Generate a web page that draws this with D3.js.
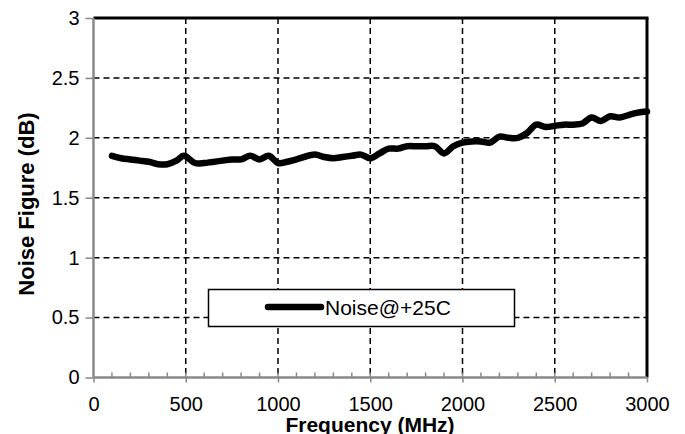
<!DOCTYPE html>
<html>
<head>
<meta charset="utf-8">
<script src="https://cdn.jsdelivr.net/npm/d3@7"></script>
<style>
  body{margin:0;background:#fff;}
  text{font-family:"Liberation Sans",Arial,sans-serif;}
</style>
</head>
<body>
<div id="chart"></div>
<script>
// frequency (MHz) and noise figure (dB)
var freq = [100,150,200,250,300,350,400,450,490,550,600,700,750,800,850,900,950,1000,1050,1100,1200,1250,1300,1350,1400,1450,1500,1550,1600,1650,1700,1750,1800,1850,1900,1950,2000,2050,2100,2150,2200,2250,2300,2350,2400,2450,2500,2550,2600,2650,2700,2750,2800,2850,2900,2950,3000];
var nf   = [1.85,1.83,1.82,1.81,1.80,1.78,1.78,1.81,1.85,1.79,1.79,1.81,1.82,1.82,1.85,1.82,1.85,1.79,1.80,1.82,1.86,1.84,1.83,1.84,1.85,1.86,1.83,1.87,1.91,1.91,1.93,1.93,1.93,1.93,1.87,1.93,1.96,1.97,1.97,1.96,2.01,2.00,2.00,2.04,2.11,2.09,2.10,2.11,2.11,2.12,2.17,2.14,2.18,2.17,2.19,2.21,2.22];
var xTicks = [0,500,1000,1500,2000,2500,3000];
var yTicks = [0,0.5,1,1.5,2,2.5,3];
var seriesName = "Noise@+25C";

var width = 685, height = 434;
var pLeft = 93.5, pRight = 647, pTop = 18, pBottom = 377.5;

var svg = d3.select("#chart").append("svg")
    .attr("width",width).attr("height",height);

var xScale = d3.scaleLinear().domain([0,3000]).range([pLeft,pRight]);
var yScale = d3.scaleLinear().domain([0,3]).range([pBottom,pTop]);

// grid
svg.append("g")
    .selectAll("line")
    .data(xTicks.slice(1,-1))
    .enter().append("line")
    .attr("x1",d=>xScale(d)).attr("x2",d=>xScale(d))
    .attr("y1",pTop).attr("y2",pBottom)
    .attr("stroke","#000").attr("stroke-width",1.5)
    .attr("stroke-dasharray","6,4");
svg.append("g")
    .selectAll("line")
    .data(yTicks.slice(1,-1))
    .enter().append("line")
    .attr("x1",pLeft).attr("x2",pRight)
    .attr("y1",d=>yScale(d)).attr("y2",d=>yScale(d))
    .attr("stroke","#000").attr("stroke-width",1.5)
    .attr("stroke-dasharray","6,4");

// frame top / right
svg.append("line").attr("x1",pLeft).attr("x2",pRight+1.5).attr("y1",pTop).attr("y2",pTop)
    .attr("stroke","#000").attr("stroke-width",3);
svg.append("line").attr("x1",pRight).attr("x2",pRight).attr("y1",pTop).attr("y2",pBottom)
    .attr("stroke","#000").attr("stroke-width",3);

// minor x ticks
svg.append("g")
    .selectAll("line")
    .data(d3.range(100,3000,100))
    .enter().append("line")
    .attr("x1",d=>xScale(d)).attr("x2",d=>xScale(d))
    .attr("y1",pBottom-5).attr("y2",pBottom)
    .attr("stroke","#888").attr("stroke-width",1.5);

// axes
var xAxis = d3.axisBottom(xScale).tickValues(xTicks).tickSize(5).tickPadding(14).tickFormat(d3.format("d"));
var yAxis = d3.axisLeft(yScale).tickValues(yTicks).tickSize(8).tickPadding(6).tickFormat(d=>d);

var gx = svg.append("g").attr("transform","translate(0,"+pBottom+")").call(xAxis);
var gy = svg.append("g").attr("transform","translate("+pLeft+",0)").call(yAxis);
[gx,gy].forEach(function(g){
    g.select(".domain").attr("stroke","#888").attr("stroke-width",2.5);
    g.selectAll(".tick line").attr("stroke","#888").attr("stroke-width",1.5);
    g.selectAll("text").attr("fill","#000").attr("font-size",20)
     .attr("font-family","'Liberation Sans',Arial,sans-serif");
});
gx.select(".domain").attr("d","M"+pLeft+",0H"+pRight);
gy.select(".domain").attr("d","M0,"+pTop+"V"+pBottom);

// axis titles
svg.append("text")
    .attr("x",370).attr("y",432)
    .attr("text-anchor","middle").attr("font-size",21).attr("font-weight","bold")
    .text("Frequency (MHz)");
svg.append("text")
    .attr("transform","translate(34,204) rotate(-90)")
    .attr("text-anchor","middle").attr("font-size",22).attr("font-weight","bold")
    .text("Noise Figure (dB)");

// the series
var line = d3.line()
    .x((d,i)=>xScale(freq[i]))
    .y(d=>yScale(d))
    .curve(d3.curveCatmullRom.alpha(0.5));
svg.append("path")
    .datum(nf)
    .attr("fill","none").attr("stroke","#000")
    .attr("stroke-width",6.5).attr("stroke-linejoin","round").attr("stroke-linecap","round")
    .attr("d",line);

// legend
var lg = svg.append("g");
lg.append("rect").attr("x",208.5).attr("y",289.5).attr("width",306).attr("height",37)
    .attr("fill","#fff").attr("stroke","#000").attr("stroke-width",1.5);
lg.append("line").attr("x1",268).attr("x2",321).attr("y1",307).attr("y2",307)
    .attr("stroke","#000").attr("stroke-width",6.5).attr("stroke-linecap","round");
lg.append("text").attr("x",325).attr("y",315).attr("font-size",21).text(seriesName);
</script>
</body>
</html>
